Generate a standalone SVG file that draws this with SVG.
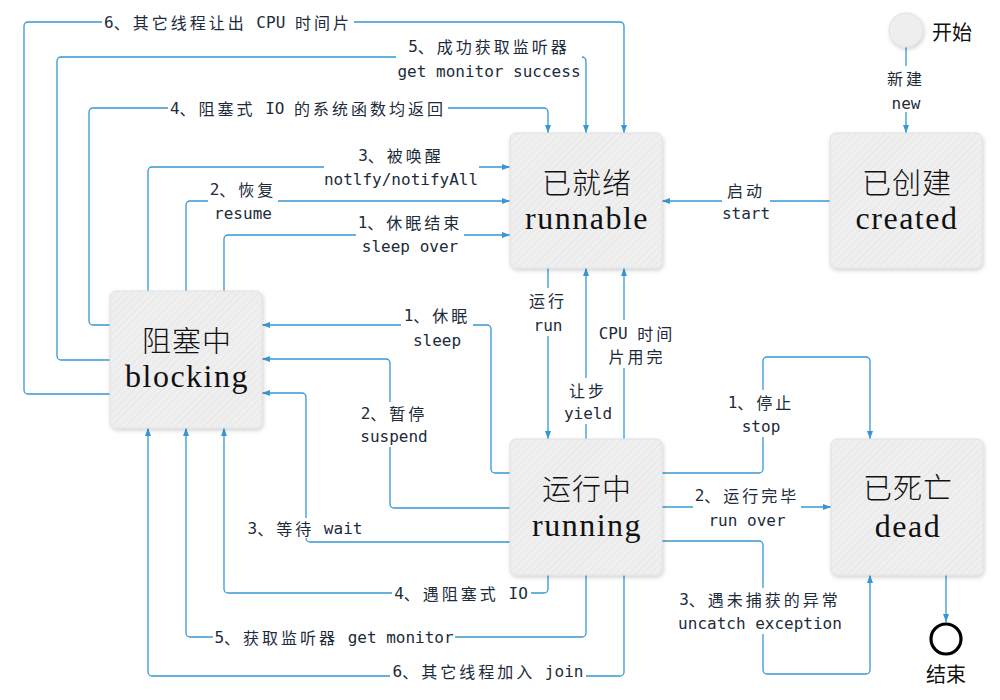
<svg xmlns="http://www.w3.org/2000/svg" width="1000" height="700" viewBox="0 0 1000 700">
<defs>
<pattern id="hatch" width="5" height="5" patternUnits="userSpaceOnUse" patternTransform="rotate(45)">
<rect width="5" height="5" fill="#efefef"/>
<line x1="0" y1="0" x2="0" y2="5" stroke="#e5e5e5" stroke-width="1.5"/>
</pattern>
<filter id="sh" x="-10%" y="-10%" width="125%" height="125%">
<feDropShadow dx="1" dy="2" stdDeviation="2" flood-color="#000" flood-opacity="0.18"/>
</filter>
<marker id="ah" viewBox="0 0 8 8" refX="8" refY="4" markerWidth="8" markerHeight="8" markerUnits="userSpaceOnUse" orient="auto">
<path d="M0,1 L8,4 L0,7 z" fill="#3598d4"/>
</marker>
<style>
.e{fill:none;stroke:#3598d4;stroke-width:1.3;marker-end:url(#ah)}
.bg{fill:#fff}
.lb{font-family:"DejaVu Sans Mono","Noto Sans CJK SC",monospace;font-size:16px;fill:#1c2b3b;text-anchor:middle;dominant-baseline:central}
.c{font-family:"Noto Sans CJK SC",sans-serif;letter-spacing:3px}
.box{fill:url(#hatch);stroke:#e0e0e0;stroke-width:1;filter:url(#sh)}
.nz{font-family:"Noto Sans CJK SC",sans-serif;font-size:29px;font-weight:300;fill:#111;text-anchor:middle;dominant-baseline:central;letter-spacing:1px}
.ne{font-family:"Liberation Serif",serif;font-size:32px;fill:#111;text-anchor:middle;letter-spacing:1.5px}
.tt{font-family:"Noto Sans CJK SC",sans-serif;font-size:20px;fill:#111;text-anchor:middle;dominant-baseline:central}
</style>
</defs>
<rect width="1000" height="700" fill="#fff"/>

<g id="connectors">
<path class="e" d="M906 47 V133"/>
<path class="e" d="M830 201 H662"/>
<path class="e" d="M548 268 V439"/>
<path class="e" d="M586 439 V268"/>
<path class="e" d="M624 439 V268"/>
<path class="e" d="M224 291 V239 A4 4 0 0 1 228 235 H510"/>
<path class="e" d="M186 291 V205 A4 4 0 0 1 190 201 H510"/>
<path class="e" d="M148 291 V171 A4 4 0 0 1 152 167 H510"/>
<path class="e" d="M110 325 H93 A4 4 0 0 1 89 321 V112 A4 4 0 0 1 93 108 H544 A4 4 0 0 1 548 112 V133"/>
<path class="e" d="M110 360 H61 A4 4 0 0 1 57 356 V61 A4 4 0 0 1 61 57 H582 A4 4 0 0 1 586 61 V133"/>
<path class="e" d="M110 394 H28 A4 4 0 0 1 24 390 V26 A4 4 0 0 1 28 22 H620 A4 4 0 0 1 624 26 V133"/>
<path class="e" d="M510 473 H495 A4 4 0 0 1 491 469 V329 A4 4 0 0 0 487 325 H262"/>
<path class="e" d="M510 508 H394 A4 4 0 0 1 390 504 V363 A4 4 0 0 0 386 359 H262"/>
<path class="e" d="M510 542 H310 A4 4 0 0 1 306 538 V397 A4 4 0 0 0 302 393 H262"/>
<path class="e" d="M548 575 V589 A4 4 0 0 1 544 593 H228 A4 4 0 0 1 224 589 V428"/>
<path class="e" d="M586 575 V633 A4 4 0 0 1 582 637 H190 A4 4 0 0 1 186 633 V428"/>
<path class="e" d="M624 575 V672 A4 4 0 0 1 620 676 H152 A4 4 0 0 1 148 672 V428"/>
<path class="e" d="M662 473 H759 A4 4 0 0 0 763 469 V361 A4 4 0 0 1 767 357 H866 A4 4 0 0 1 870 361 V439"/>
<path class="e" d="M662 507 H831"/>
<path class="e" d="M662 541 H759 A4 4 0 0 1 763 545 V670 A4 4 0 0 0 767 674 H866 A4 4 0 0 0 870 670 V575"/>
<path class="e" d="M946 575 V622"/>
</g>

<g id="edge-labels">
<rect class="bg" x="888" y="66" width="36" height="46"/>
<text class="lb" x="906" y="78"><tspan class="c">新建</tspan></text>
<text class="lb" x="906" y="103">new</text>

<rect class="bg" x="722" y="178" width="48" height="44"/>
<text class="lb" x="746" y="190"><tspan class="c">启动</tspan></text>
<text class="lb" x="746" y="213">start</text>

<rect class="bg" x="530" y="288" width="36" height="48"/>
<text class="lb" x="548" y="300"><tspan class="c">运行</tspan></text>
<text class="lb" x="548" y="325">run</text>

<rect class="bg" x="564" y="378" width="48" height="46"/>
<text class="lb" x="588" y="390"><tspan class="c">让步</tspan></text>
<text class="lb" x="588" y="413">yield</text>

<rect class="bg" x="597" y="320" width="81" height="48"/>
<text class="lb" x="637" y="333">CPU <tspan class="c">时间</tspan></text>
<text class="lb" x="637" y="356"><tspan class="c">片用完</tspan></text>

<rect class="bg" x="356" y="212" width="108" height="44"/>
<text class="lb" x="410" y="222">1<tspan class="c">、休眠结束</tspan></text>
<text class="lb" x="410" y="246">sleep over</text>

<rect class="bg" x="208" y="180" width="70" height="42"/>
<text class="lb" x="243" y="189">2<tspan class="c">、恢复</tspan></text>
<text class="lb" x="243" y="213">resume</text>

<rect class="bg" x="324" y="145" width="155" height="44"/>
<text class="lb" x="401" y="155">3<tspan class="c">、被唤醒</tspan></text>
<text class="lb" x="401" y="179">notlfy/notifyAll</text>

<rect class="bg" x="168" y="99" width="280" height="18"/>
<text class="lb" x="308" y="108">4<tspan class="c">、阻塞式</tspan> IO <tspan class="c">的系统函数均返回</tspan></text>

<rect class="bg" x="396" y="36" width="186" height="44"/>
<text class="lb" x="489" y="46">5<tspan class="c">、成功获取监听器</tspan></text>
<text class="lb" x="489" y="71">get monitor success</text>

<rect class="bg" x="102" y="12" width="252" height="20"/>
<text class="lb" x="228" y="22">6<tspan class="c">、其它线程让出</tspan> CPU <tspan class="c">时间片</tspan></text>

<rect class="bg" x="401" y="305" width="72" height="45"/>
<text class="lb" x="437" y="315">1<tspan class="c">、休眠</tspan></text>
<text class="lb" x="437" y="340">sleep</text>

<rect class="bg" x="358" y="402" width="72" height="45"/>
<text class="lb" x="394" y="413">2<tspan class="c">、暂停</tspan></text>
<text class="lb" x="394" y="436">suspend</text>

<rect class="bg" x="245" y="518" width="120" height="20"/>
<text class="lb" x="305" y="528">3<tspan class="c">、等待</tspan> wait</text>

<rect class="bg" x="392" y="583" width="139" height="20"/>
<text class="lb" x="461" y="593">4<tspan class="c">、遇阻塞式</tspan> IO</text>

<rect class="bg" x="213" y="627" width="242" height="20"/>
<text class="lb" x="334" y="637">5<tspan class="c">、获取监听器</tspan> get monitor</text>

<rect class="bg" x="390" y="661" width="196" height="20"/>
<text class="lb" x="488" y="671">6<tspan class="c">、其它线程加入</tspan> join</text>

<rect class="bg" x="725" y="390" width="72" height="47"/>
<text class="lb" x="761" y="402">1<tspan class="c">、停止</tspan></text>
<text class="lb" x="761" y="426">stop</text>

<rect class="bg" x="693" y="484" width="108" height="47"/>
<text class="lb" x="747" y="495">2<tspan class="c">、运行完毕</tspan></text>
<text class="lb" x="747" y="520">run over</text>

<rect class="bg" x="676" y="588" width="168" height="46"/>
<text class="lb" x="760" y="599">3<tspan class="c">、遇未捕获的异常</tspan></text>
<text class="lb" x="760" y="623">uncatch exception</text>
</g>

<g id="start">
<circle cx="906" cy="30" r="17" fill="#eeeeee" stroke="#e0e0e0" filter="url(#sh)"/>
<text class="tt" x="952" y="31">开始</text>
</g>

<g id="end">
<circle cx="946" cy="639" r="15" fill="#fff" stroke="#000" stroke-width="3.2"/>
<text class="tt" x="946" y="673">结束</text>
</g>

<g id="runnable">
<rect class="box" x="510" y="133" width="152" height="135" rx="6"/>
<text class="nz" x="587" y="181">已就绪</text>
<text class="ne" x="587" y="229">runnable</text>
</g>

<g id="created">
<rect class="box" x="830" y="133" width="152" height="135" rx="6"/>
<text class="nz" x="907" y="181">已创建</text>
<text class="ne" x="907" y="229">created</text>
</g>

<g id="blocking">
<rect class="box" x="110" y="291" width="152" height="137" rx="6"/>
<text class="nz" x="187" y="339">阻塞中</text>
<text class="ne" x="187" y="387">blocking</text>
</g>

<g id="running">
<rect class="box" x="510" y="439" width="152" height="136" rx="6"/>
<text class="nz" x="587" y="487">运行中</text>
<text class="ne" x="587" y="536">running</text>
</g>

<g id="dead">
<rect class="box" x="831" y="439" width="152" height="136" rx="6"/>
<text class="nz" x="908" y="486">已死亡</text>
<text class="ne" x="908" y="537">dead</text>
</g>
</svg>
